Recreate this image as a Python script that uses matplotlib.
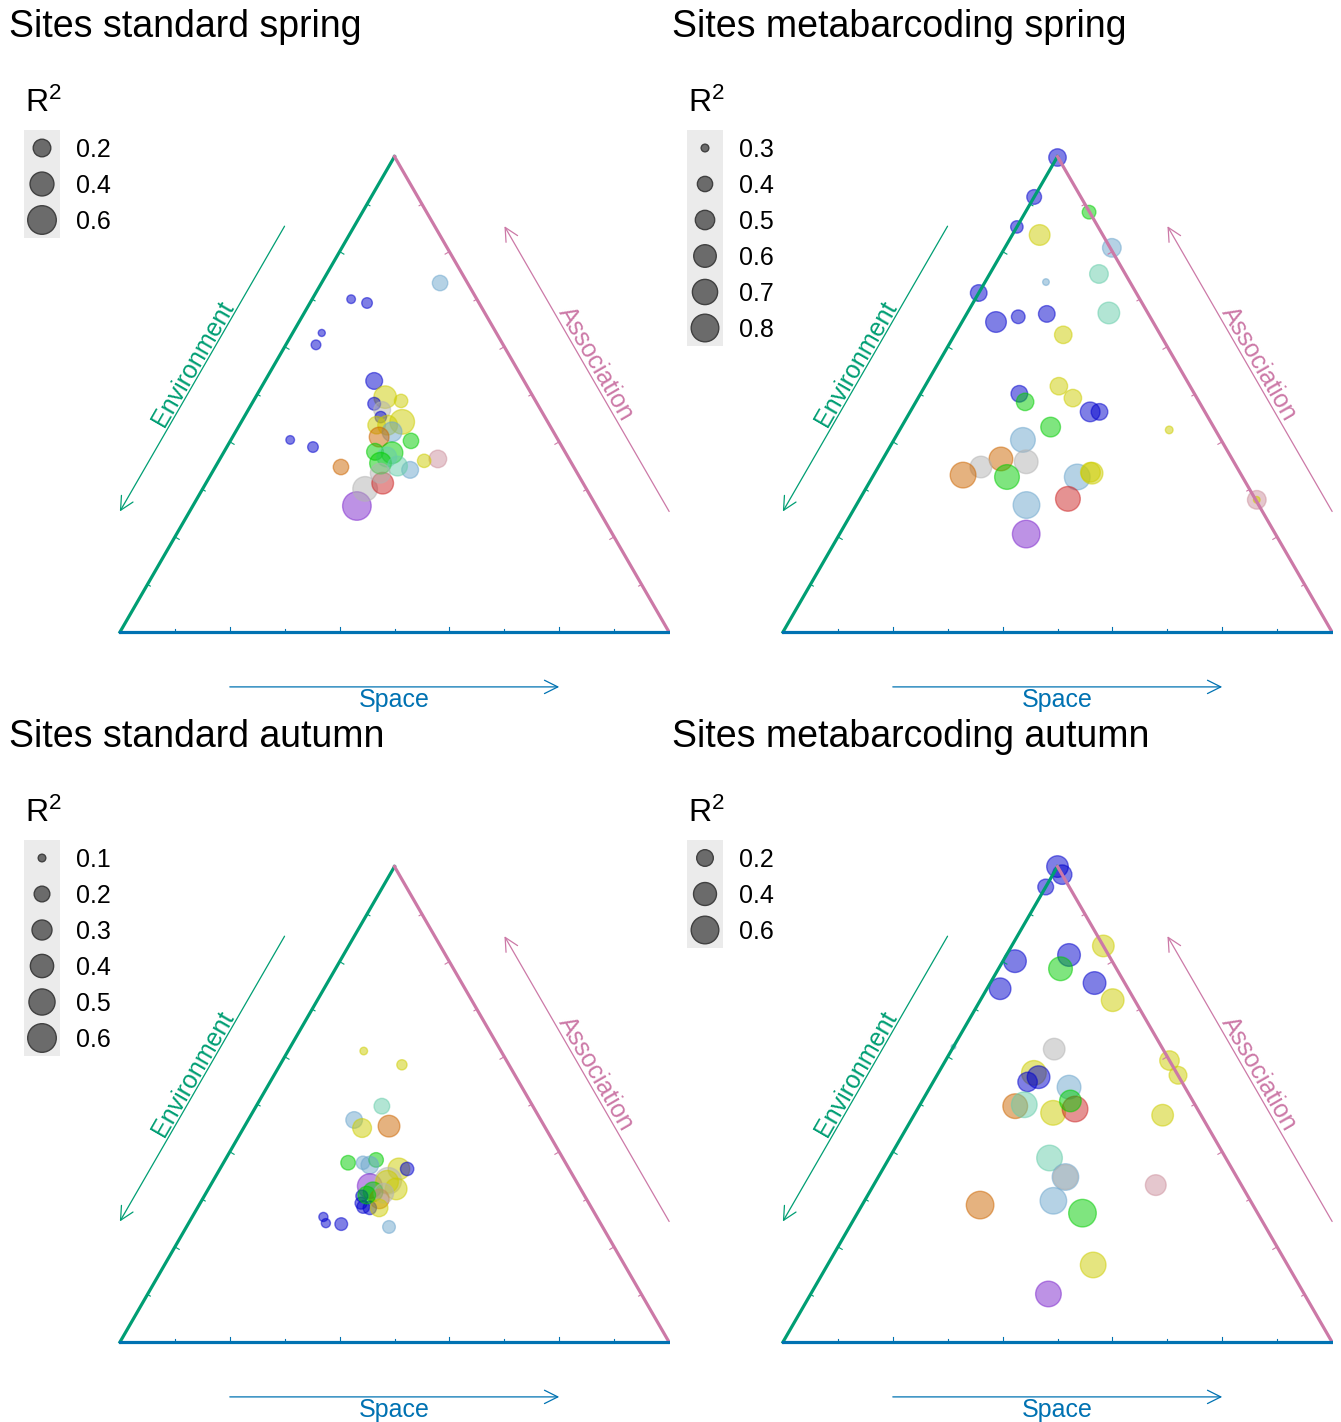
# Ternary plots of site variance partitioning (Environment / Space / Association)
import numpy as np
import matplotlib.pyplot as plt
from matplotlib.patches import Rectangle

plt.rcParams['font.family'] = ['Liberation Sans', 'DejaVu Sans']
plt.rcParams['mathtext.fontset'] = 'custom'
plt.rcParams['mathtext.rm'] = 'Liberation Sans'

# group colours
GROUP_COLORS = {'blue': '#0000CD', 'yellow': '#CDCD00', 'green': '#00CD00',
                'skyblue': '#6CA6CD', 'aquamarine': '#66CDAA', 'orange': '#CD6600',
                'grey': '#B3B3B3', 'red': '#CD2626', 'purple': '#7D26CD', 'pink': '#CD919E'}
ENV_C = '#009E73'
SPA_C = '#0072B2'
ASC_C = '#CC79A7'

# --- Sites standard spring ---
ss_spa = [0.216, 0.071, 0.104, 0.053, 0.055, 0.108, 0.157, 0.229, 0.397, 0.374, 0.358, 0.299, 0.296,
          0.322, 0.329, 0.199, 0.236, 0.269, 0.223, 0.244, 0.249, 0.293, 0.250, 0.270, 0.285, 0.267,
          0.275, 0.307, 0.302, 0.297, 0.331, 0.307]
ss_asc = [0.734, 0.700, 0.692, 0.629, 0.604, 0.404, 0.389, 0.347, 0.364, 0.360, 0.341, 0.265, 0.301,
          0.313, 0.402, 0.528, 0.494, 0.486, 0.480, 0.467, 0.452, 0.442, 0.435, 0.435, 0.421, 0.410,
          0.379, 0.377, 0.368, 0.355, 0.349, 0.334]
ss_r2 = [0.15, 0.05, 0.07, 0.04, 0.06, 0.05, 0.07, 0.15, 0.20, 0.11, 0.18, 0.60, 0.43, 0.32, 0.15, 0.18,
         0.35, 0.11, 0.10, 0.18, 0.08, 0.43, 0.20, 0.26, 0.26, 0.26, 0.18, 0.32, 0.26, 0.32, 0.26, 0.26]
ss_grp = ['skyblue', 'blue', 'blue', 'blue', 'blue', 'blue', 'blue', 'orange', 'pink', 'yellow',
          'skyblue', 'purple', 'grey', 'red', 'green', 'blue', 'yellow', 'yellow', 'blue', 'grey',
          'blue', 'yellow', 'yellow', 'yellow', 'skyblue', 'orange', 'green', 'green', 'aquamarine',
          'green', 'aquamarine', 'grey']

# --- Sites metabarcoding spring ---
ms_spa = [0.001, 0.000, 0.116, 0.000, 0.050, 0.195, 0.111, 0.199, 0.000, 0.258, 0.062, 0.097, 0.146,
          0.198, 0.244, 0.282, 0.180, 0.199, 0.328, 0.345, 0.272, 0.235, 0.215, 0.264, 0.187, 0.163,
          0.245, 0.373, 0.396, 0.392, 0.379, 0.310, 0.340, 0.491, 0.724, 0.724]
ms_asc = [0.998, 0.915, 0.883, 0.852, 0.835, 0.808, 0.736, 0.753, 0.713, 0.671, 0.652, 0.663, 0.669,
          0.625, 0.517, 0.492, 0.501, 0.484, 0.463, 0.463, 0.431, 0.404, 0.364, 0.358, 0.347, 0.330,
          0.326, 0.326, 0.334, 0.336, 0.280, 0.267, 0.206, 0.425, 0.278, 0.278]
ms_r2 = [0.45, 0.39, 0.37, 0.35, 0.54, 0.48, 0.295, 0.48, 0.43, 0.57, 0.54, 0.37, 0.43, 0.45, 0.45,
         0.45, 0.43, 0.45, 0.51, 0.43, 0.51, 0.68, 0.64, 0.64, 0.57, 0.72, 0.68, 0.72, 0.57, 0.51,
         0.68, 0.76, 0.80, 0.30, 0.48, 0.295]
ms_grp = ['blue', 'blue', 'green', 'blue', 'yellow', 'skyblue', 'skyblue', 'aquamarine', 'blue',
          'aquamarine', 'blue', 'blue', 'blue', 'yellow', 'yellow', 'yellow', 'blue', 'green', 'blue',
          'blue', 'green', 'skyblue', 'orange', 'grey', 'grey', 'orange', 'green', 'skyblue', 'yellow',
          'yellow', 'red', 'skyblue', 'purple', 'yellow', 'pink', 'yellow']

# --- Sites standard autumn ---
sa_spa = [0.138, 0.222, 0.229, 0.193, 0.216, 0.263, 0.227, 0.254, 0.275, 0.269, 0.326, 0.341, 0.291,
          0.319, 0.318, 0.342, 0.303, 0.322, 0.324, 0.287, 0.293, 0.301, 0.314, 0.331, 0.295, 0.239,
          0.250, 0.279, 0.369]
sa_asc = [0.612, 0.583, 0.496, 0.467, 0.450, 0.454, 0.377, 0.377, 0.383, 0.372, 0.364, 0.364, 0.328,
          0.339, 0.337, 0.322, 0.316, 0.301, 0.313, 0.307, 0.292, 0.284, 0.282, 0.282, 0.309, 0.263,
          0.250, 0.248, 0.242]
sa_r2 = [0.10, 0.12, 0.20, 0.22, 0.27, 0.35, 0.18, 0.16, 0.18, 0.24, 0.35, 0.16, 0.45, 0.52, 0.38,
         0.35, 0.29, 0.29, 0.29, 0.14, 0.14, 0.15, 0.16, 0.24, 0.24, 0.11, 0.11, 0.15, 0.15]
sa_grp = ['yellow', 'yellow', 'aquamarine', 'skyblue', 'yellow', 'orange', 'green', 'skyblue', 'green',
          'skyblue', 'yellow', 'blue', 'purple', 'grey', 'yellow', 'yellow', 'green', 'orange', 'grey',
          'blue', 'blue', 'blue', 'blue', 'yellow', 'green', 'blue', 'blue', 'blue', 'skyblue']

# --- Sites metabarcoding autumn ---
ma_spa = [0.000, 0.017, 0.000, 0.167, 0.022, 0.114, 0.113, 0.190, 0.024, 0.241, 0.186, 0.174, 0.187,
          0.172, 0.253, 0.175, 0.190, 0.251, 0.287, 0.270, 0.292, 0.341, 0.341, 0.344, 0.410, 0.215,
          0.514, 0.484, 0.433, 0.408, 0.439, 0.453, 0.000]
ma_asc = [1.000, 0.983, 0.957, 0.833, 0.801, 0.814, 0.785, 0.755, 0.743, 0.719, 0.616, 0.566, 0.557,
          0.547, 0.536, 0.496, 0.499, 0.482, 0.490, 0.507, 0.387, 0.347, 0.347, 0.297, 0.271, 0.288,
          0.330, 0.162, 0.101, 0.592, 0.561, 0.477, 0.621]
ma_r2 = [0.35, 0.28, 0.18, 0.35, 0.39, 0.39, 0.43, 0.39, 0.35, 0.39, 0.35, 0.47, 0.39, 0.28, 0.43,
         0.47, 0.51, 0.47, 0.51, 0.35, 0.51, 0.55, 0.47, 0.55, 0.60, 0.60, 0.32, 0.51, 0.51, 0.28,
         0.23, 0.35, 0.05]
ma_grp = ['blue', 'blue', 'blue', 'yellow', 'blue', 'blue', 'green', 'blue', 'blue', 'yellow', 'grey',
          'yellow', 'blue', 'blue', 'skyblue', 'orange', 'aquamarine', 'yellow', 'red', 'green',
          'aquamarine', 'skyblue', 'grey', 'skyblue', 'green', 'orange', 'pink', 'yellow', 'purple',
          'yellow', 'yellow', 'yellow', 'skyblue']

PANELS = [
    ('Sites standard spring', ss_spa, ss_asc, ss_r2, ss_grp, [0.2, 0.4, 0.6], (0.034, 0.65)),
    ('Sites metabarcoding spring', ms_spa, ms_asc, ms_r2, ms_grp,
     [0.3, 0.4, 0.5, 0.6, 0.7, 0.8], (0.291, 0.892)),
    ('Sites standard autumn', sa_spa, sa_asc, sa_r2, sa_grp,
     [0.1, 0.2, 0.3, 0.4, 0.5, 0.6], (0.092, 0.644)),
    ('Sites metabarcoding autumn', ma_spa, ma_asc, ma_r2, ma_grp, [0.2, 0.4, 0.6], (0.05, 0.70)),
]

H = np.sqrt(3) / 2
SIDE = 549.0  # pixels per triangle side


def tern_xy(spa, asc):
    spa = np.asarray(spa)
    asc = np.asarray(asc)
    return spa + asc / 2, asc * H


def size_px(r2, lim):
    r = np.clip((np.asarray(r2, dtype=float) - lim[0]) / (lim[1] - lim[0]), 0, 1)
    return 5 + 25 * np.sqrt(r)


def area(d):
    return ((d - 0.4) * 0.72) ** 2


def L(px, py):
    # local panel pixel -> triangle units
    return (px - 120) / SIDE, (632 - py) / SIDE


fig = plt.figure(figsize=(13.41, 14.22), dpi=100)

for i, (title, spa, asc, r2, grp, breaks, lim) in enumerate(PANELS):
    col, row = i % 2, i // 2
    left, top = col * 663, row * 710
    ax = fig.add_axes([left / 1341, 1 - (top + 712) / 1422, 670 / 1341, 712 / 1422])
    ax.set_xlim(-120 / SIDE, 550 / SIDE)
    ax.set_ylim(-80 / SIDE, 632 / SIDE)
    ax.axis('off')

    # points
    x, y = tern_xy(spa, asc)
    cols = [GROUP_COLORS[g] for g in grp]
    d = size_px(r2, lim)
    ax.scatter(x, y, s=area(d), c=cols, edgecolors=cols, alpha=0.5, linewidths=1.0,
               zorder=2, clip_on=False)

    # triangle edges
    ax.plot([0, 0.5], [0, H], color=ENV_C, lw=2.3, zorder=3)
    ax.plot([0.5, 1], [H, 0], color=ASC_C, lw=2.3, zorder=3)
    ax.plot([0, 1], [0, 0], color=SPA_C, lw=2.3, zorder=3)
    for t in np.arange(1, 10) / 10:
        ln = 0.009 if round(t * 10) % 2 == 0 else 0.006
        ax.plot([t, t], [0, ln], color=SPA_C, lw=0.8, zorder=3)
        px, py = 0.5 * t, H * t
        ax.plot([px, px + ln * H], [py, py - ln * 0.5], color=ENV_C, lw=0.8, zorder=3)
        px, py = 1 - 0.5 * t, H * t
        ax.plot([px, px - ln * H], [py, py - ln * 0.5], color=ASC_C, lw=0.8, zorder=3)

    # axis arrows and labels
    aprops = dict(arrowstyle='->', lw=0.9, mutation_scale=24, shrinkA=0, shrinkB=0)
    # environment (left edge, outward normal (-H, 0.5))
    s0 = (0.5 * 0.79 - 0.11 * H, H * 0.79 + 0.11 * 0.5)
    e0 = (0.5 * 0.19 - 0.11 * H, H * 0.19 + 0.11 * 0.5)
    ax.annotate('', xy=e0, xytext=s0, arrowprops=dict(aprops, color=ENV_C))
    ax.text(0.5 * 0.49 - 0.13 * H, H * 0.49 + 0.13 * 0.5, 'Environment', color=ENV_C,
            fontsize=18, rotation=60, ha='center', va='center', rotation_mode='anchor')
    # association (right edge, outward normal (H, 0.5))
    s0 = (1 - 0.5 * 0.19 + 0.11 * H, H * 0.19 + 0.11 * 0.5)
    e0 = (1 - 0.5 * 0.79 + 0.11 * H, H * 0.79 + 0.11 * 0.5)
    ax.annotate('', xy=e0, xytext=s0, arrowprops=dict(aprops, color=ASC_C))
    ax.text(1 - 0.5 * 0.49 + 0.13 * H, H * 0.49 + 0.13 * 0.5, 'Association', color=ASC_C,
            fontsize=18, rotation=-60, ha='center', va='center', rotation_mode='anchor')
    # space (bottom edge)
    ax.annotate('', xy=(0.8, -0.10), xytext=(0.2, -0.10), arrowprops=dict(aprops, color=SPA_C))
    ax.text(0.5, -0.124, 'Space', color=SPA_C, fontsize=18, ha='center', va='center')

    # title
    ax.text(*L(9, 37), title, fontsize=27, ha='left', va='baseline', color='black')

    # size legend
    ax.text(*L(25, 112), r'$\mathregular{R^2}$', fontsize=23, ha='left', va='baseline')
    n = len(breaks)
    bx0, by0 = L(24, 130 + 36 * n)
    ax.add_patch(Rectangle((bx0, by0), 36 / SIDE, 36 * n / SIDE, facecolor='#EBEBEB',
                           edgecolor='none', zorder=1))
    ly = [L(42, 148 + 36 * k)[1] for k in range(n)]
    lx = [L(42, 0)[0]] * n
    ax.scatter(lx, ly, s=area(size_px(breaks, lim)), c='#6B6B6B', edgecolors='#404040',
               linewidths=1.0, zorder=2)
    for k, b in enumerate(breaks):
        ax.text(*L(76, 148 + 36 * k + 9), '%.1f' % b, fontsize=18, ha='left', va='baseline')

fig.savefig('out.png', dpi=100)
